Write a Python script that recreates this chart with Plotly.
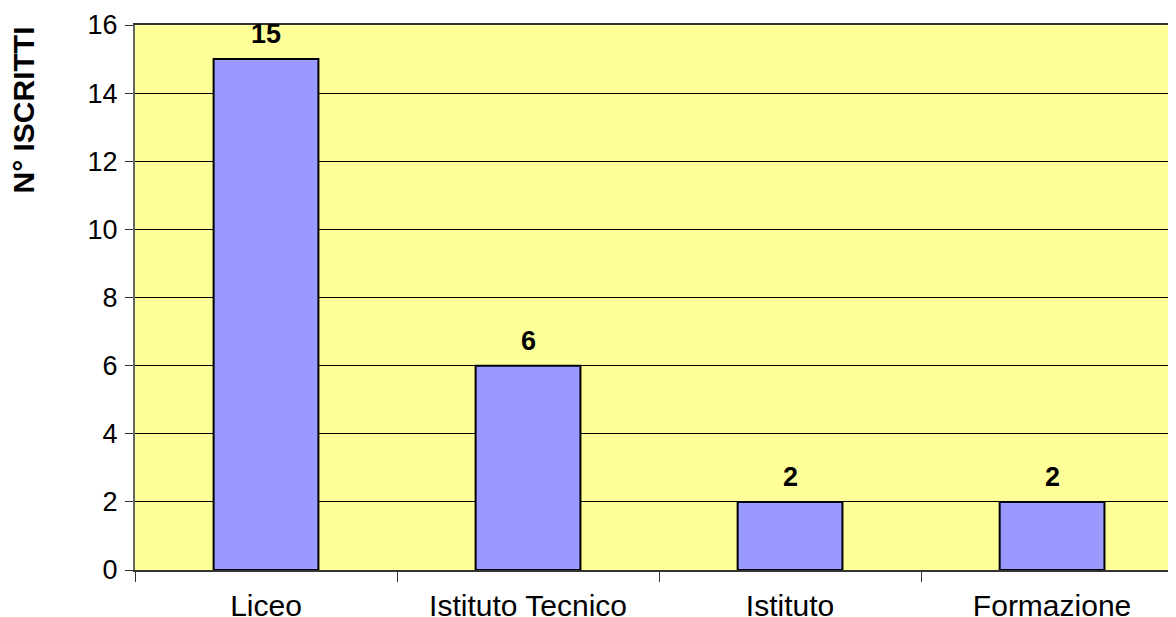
import plotly.graph_objects as go

categorie = ["Liceo", "Istituto Tecnico", "Istituto<br>Professionale", "Formazione<br>Professionale"]
iscritti = [15, 6, 2, 2]
y_ticks = [0, 2, 4, 6, 8, 10, 12, 14, 16]

font = "Liberation Sans, Arial, sans-serif"

fig = go.Figure()
fig.add_trace(go.Bar(
    x=categorie,
    y=iscritti,
    marker=dict(color="#9999FF", line=dict(color="black", width=2)),
))

# etichette sopra le barre
annotazioni = []
for c, v in zip(categorie, iscritti):
    annotazioni.append(dict(
        x=c, y=v, xref="x", yref="y",
        text="<b>%d</b>" % v, showarrow=False,
        yanchor="middle", yshift=25,
        font=dict(family=font, size=27, color="black"),
    ))
annotazioni.append(dict(
    text="<b>N° ISCRITTI</b>",
    xref="paper", yref="paper",
    x=0, y=1.0, xanchor="center", yanchor="top",
    xshift=-112,
    textangle=-90, showarrow=False,
    font=dict(family=font, size=30, color="black"),
))

fig.update_layout(
    width=1168, height=609,
    margin=dict(l=127, r=0, t=17, b=47),
    paper_bgcolor="white",
    plot_bgcolor="#FFFF99",
    bargap=0.6,
    showlegend=False,
    font=dict(family=font, color="black"),
    xaxis=dict(
        range=[-0.5, 3.473],
        tickson="boundaries",
        ticks="outside", ticklen=10, tickcolor="#333333", tickwidth=1,
        showline=True, linecolor="#333333", linewidth=2, mirror=True,
        showgrid=False,
        tickfont=dict(size=30),
        ticklabelstandoff=8,
        automargin=False,
    ),
    yaxis=dict(
        range=[0, 16],
        tickvals=y_ticks,
        ticks="outside", ticklen=8, tickcolor="#333333",
        showline=True, linecolor="#666666", linewidth=2,
        showgrid=True, gridcolor="black", gridwidth=1,
        zeroline=False,
        tickfont=dict(size=27),
        ticklabelstandoff=2,
        automargin=False,
    ),
    annotations=annotazioni,
)

fig.write_html("out.html")
